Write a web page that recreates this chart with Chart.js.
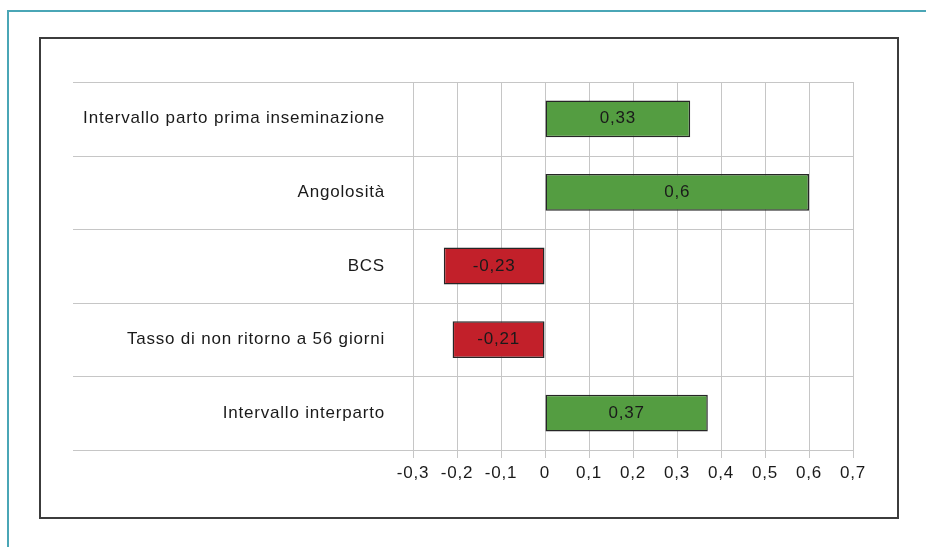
<!DOCTYPE html>
<html>
<head>
<meta charset="utf-8">
<script src="https://cdn.jsdelivr.net/npm/chart.js@4/dist/chart.umd.min.js"></script>
<style>
  html, body { margin: 0; padding: 0; background: #fff; }
  body { width: 926px; height: 547px; position: relative; overflow: hidden; }
  #frame { position: absolute; left: 7px; top: 10px; width: 940px; height: 560px;
           border: 2px solid #4aa6b6; box-sizing: border-box; }
  #box { position: absolute; left: 39px; top: 37px; width: 860px; height: 482px;
         border: 2px solid #3c3c3c; box-sizing: border-box; }
  #wrap { position: absolute; left: 0; top: 0; width: 926px; height: 547px; }
</style>
</head>
<body>
<div id="frame"></div>
<div id="box"></div>
<div id="wrap"><canvas id="chart"></canvas></div>
<script>
const categories = [
  "Intervallo parto prima inseminazione",
  "Angolosità",
  "BCS",
  "Tasso di non ritorno a 56 giorni",
  "Intervallo interparto"
];
const values = [0.33, 0.6, -0.23, -0.21, 0.37];
const xMin = -0.3;
const xMax = 0.7;
const xStep = 0.1;

const green = "#549d41";
const red = "#c2202a";
const fontFamily = "'Liberation Sans', Arial, sans-serif";

function fmt(v) {
  const r = Math.round(v * 100) / 100;
  return String(r).replace(".", ",");
}

// the original text is a bit spaced out
const spacing = {
  id: "spacing",
  beforeDraw(chart) { chart.ctx.letterSpacing = "0.8px"; }
};

// category separators, running from the label area to the right edge
const separators = {
  id: "separators",
  beforeDatasetsDraw(chart) {
    const { ctx, chartArea, scales } = chart;
    const y = scales.y;
    ctx.save();
    ctx.strokeStyle = "#c6c6c6";
    ctx.lineWidth = 1;
    for (let i = 0; i < categories.length; i++) {
      const py = Math.round(y.getPixelForValue(i - 0.5)) + 0.5;
      ctx.beginPath();
      ctx.moveTo(73, py);
      ctx.lineTo(chartArea.right, py);
      ctx.stroke();
    }
    const pb = Math.round(y.getPixelForValue(categories.length - 0.5)) + 0.5;
    ctx.beginPath();
    ctx.moveTo(73, pb);
    ctx.lineTo(chartArea.left, pb);
    ctx.stroke();
    ctx.restore();
  }
};

const valueLabels = {
  id: "valueLabels",
  afterDatasetsDraw(chart) {
    const { ctx } = chart;
    const meta = chart.getDatasetMeta(0);
    ctx.save();
    ctx.font = "17px " + fontFamily;
    ctx.fillStyle = "#1a1a1a";
    ctx.textAlign = "center";
    ctx.textBaseline = "middle";
    meta.data.forEach((bar, i) => {
      ctx.fillText(fmt(values[i]), (bar.x + bar.base) / 2, bar.y);
    });
    ctx.restore();
  }
};

new Chart(document.getElementById("chart"), {
  type: "bar",
  data: {
    labels: categories,
    datasets: [{
      data: values,
      backgroundColor: values.map(v => v < 0 ? red : green),
      borderColor: "#262626",
      borderWidth: 1.5,
      borderSkipped: false,
      barPercentage: 0.5,
      categoryPercentage: 1
    }]
  },
  options: {
    indexAxis: "y",
    responsive: true,
    maintainAspectRatio: false,
    animation: false,
    layout: { padding: { left: 73, right: 73, top: 82, bottom: 67 } },
    plugins: { legend: { display: false }, tooltip: { enabled: false } },
    scales: {
      x: {
        min: xMin,
        max: xMax,
        afterFit(scale) { scale.height = 30; },
        ticks: {
          stepSize: xStep,
          padding: 5,
          color: "#1a1a1a",
          font: { family: fontFamily, size: 17 },
          callback: v => fmt(v)
        },
        grid: { color: "#c6c6c6", lineWidth: 1, tickLength: 8 },
        border: { color: "#c6c6c6" }
      },
      y: {
        afterFit(scale) { scale.width = 340; },
        ticks: {
          padding: 28,
          color: "#1a1a1a",
          font: { family: fontFamily, size: 17 }
        },
        grid: { display: false, drawTicks: false },
        border: { display: false }
      }
    }
  },
  plugins: [spacing, separators, valueLabels]
});
</script>
</body>
</html>
